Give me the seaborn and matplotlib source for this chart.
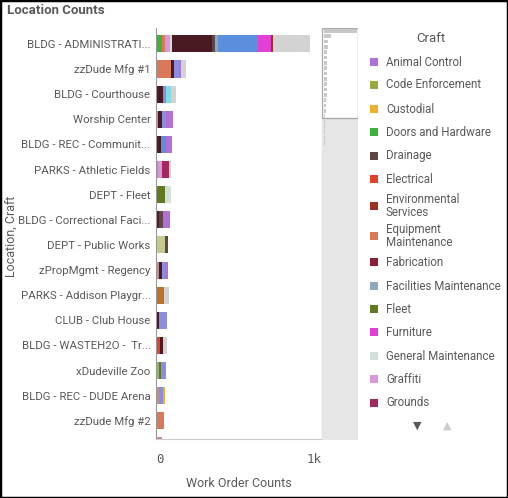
import pandas as pd
import seaborn as sns
import matplotlib.pyplot as plt
from matplotlib.patches import Rectangle

# --- Data ---
locations = [
    "BLDG - ADMINISTRATI...", "zzDude Mfg #1", "BLDG - Courthouse", "Worship Center",
    "BLDG - REC - Communit...", "PARKS - Athletic Fields", "DEPT - Fleet",
    "BLDG - Correctional Faci...", "DEPT - Public Works", "zPropMgmt - Regency",
    "PARKS - Addison Playgr...", "CLUB - Club House", "BLDG - WASTEH2O -  Tr...",
    "xDudeville Zoo", "BLDG - REC - DUDE Arena", "zzDude Mfg #2", "BLDG - Library",
]

# stacking order (left to right inside a bar)
stack_order = [
    "Carpentry", "Doors and Hardware", "Equipment Maintenance", "Electrical", "Turf",
    "Fleet", "Irrigation", "Locksmith", "Graffiti", "General Maintenance", "HVAC",
    "Drainage", "Facilities Maintenance", "Painting", "Plumbing", "Roofing",
    "Animal Control", "Furniture", "Grounds", "Environmental Services", "Structural",
    "Custodial", "Code Enforcement", "Fabrication",
]

craft_colors = {
    "Animal Control": "#b26fd4", "Code Enforcement": "#9aa63e", "Custodial": "#eab02e",
    "Doors and Hardware": "#3db33d", "Drainage": "#5d4747", "Electrical": "#e3412b",
    "Environmental Services": "#9c3220", "Equipment Maintenance": "#d9795a",
    "Fabrication": "#8c1f33", "Facilities Maintenance": "#8fa8ba", "Fleet": "#607a1f",
    "Furniture": "#e23fd3", "General Maintenance": "#d3e0da", "Graffiti": "#d999d9",
    "Grounds": "#a3285f", "HVAC": "#4a1922", "Irrigation": "#c4c98c",
    "Locksmith": "#b9742a", "Painting": "#5b8fdd", "Plumbing": "#8b8ddf",
    "Roofing": "#7fdde6", "Structural": "#d3d3d3", "Turf": "#8fb36a",
    "Carpentry": "#c09088",
}

# legend shows only the first page of crafts
legend_crafts = [
    "Animal Control", "Code Enforcement", "Custodial", "Doors and Hardware", "Drainage",
    "Electrical", "Environmental\nServices", "Equipment\nMaintenance", "Fabrication",
    "Facilities Maintenance", "Fleet", "Furniture", "General Maintenance", "Graffiti",
    "Grounds",
]

seg_location = (
    [0] * 11 + [1] * 5 + [2] * 4 + [3] * 4 + [4] * 3 + [5] * 4 + [6] * 2 + [7] * 3
    + [8] * 2 + [9] * 4 + [10] * 2 + [11] * 2 + [12] * 3 + [13] * 3 + [14] * 3
    + [15] + [16]
)
seg_craft = [
    "Doors and Hardware", "Equipment Maintenance", "Graffiti", "General Maintenance",
    "HVAC", "Drainage", "Facilities Maintenance", "Painting", "Furniture",
    "Environmental Services", "Structural",
    "Equipment Maintenance", "HVAC", "Plumbing", "Animal Control", "Structural",
    "HVAC", "Plumbing", "Roofing", "Structural",
    "Carpentry", "HVAC", "Plumbing", "Animal Control",
    "HVAC", "Painting", "Animal Control",
    "Carpentry", "Graffiti", "Grounds", "Structural",
    "Fleet", "General Maintenance",
    "HVAC", "Drainage", "Animal Control",
    "Irrigation", "Drainage",
    "Carpentry", "HVAC", "Plumbing", "Animal Control",
    "Locksmith", "Structural",
    "HVAC", "Plumbing",
    "Electrical", "HVAC", "Structural",
    "Turf", "Fleet", "Plumbing",
    "Carpentry", "Plumbing", "Custodial",
    "Equipment Maintenance",
    "Carpentry",
]
seg_count = [
    35, 20, 30, 10, 242, 20, 14, 242, 77, 16, 220,
    89, 22, 28, 12, 30,
    42, 18, 30, 30,
    14, 20, 26, 40,
    30, 30, 34,
    14, 24, 40, 10,
    55, 34,
    20, 24, 40,
    55, 20,
    18, 16, 20, 20,
    50, 28,
    20, 48,
    24, 20, 24,
    18, 12, 28,
    18, 26, 10,
    48,
    36,
]
# totals of further (scrolled-away) rows, seen only in the mini overview
tail_totals = [34, 30, 28, 25, 22]

TXT = "#595959"

df = pd.DataFrame({
    "location": [locations[i] for i in seg_location],
    "craft": seg_craft,
    "count": seg_count,
})
table = (df.pivot_table(index="location", columns="craft", values="count",
                        aggfunc="sum", fill_value=0)
         .reindex(index=locations, columns=stack_order, fill_value=0))
cum = table.cumsum(axis=1)

sns.set_style("white")
plt.rcParams["font.family"] = ["Roboto", "DejaVu Sans"]

W, H = 508, 498
fig = plt.figure(figsize=(W / 100, H / 100), dpi=100)


def fx(x):
    return x / W


def fy(y):
    return 1 - y / H


# --- Main stacked bar chart ---
ax = fig.add_axes([fx(156), fy(439), fx(322) - fx(156), (439 - 28) / H])
for craft in reversed(stack_order):
    sns.barplot(x=cum[craft].values, y=locations, order=locations, orient="h",
                color=craft_colors[craft], saturation=1, width=0.68,
                linewidth=0, ax=ax)
ax.set_xlim(0, 1000)
ax.set_ylim(15.72, -0.63)
ax.set_xticks([0, 1000])
ax.set_xticklabels(["0", "1k"], fontsize=9, color=TXT, family="DejaVu Sans Mono")
xl = ax.get_xticklabels()
xl[0].set_horizontalalignment("left")
xl[1].set_horizontalalignment("right")
ax.tick_params(axis="x", length=0, pad=10)
ax.tick_params(axis="y", length=0, pad=4, labelsize=8.2, labelcolor=TXT)
ax.set_xlabel("Work Order Counts", fontsize=9, color=TXT, labelpad=8)
ax.set_ylabel("")
for s in ["top", "right"]:
    ax.spines[s].set_visible(False)
ax.spines["left"].set_color("#999999")
ax.spines["bottom"].set_color("#cccccc")
ax.axvline(1000, color="#cccccc", lw=1)

fig.text(fx(12), fy(236), "Location, Craft", rotation=90, fontsize=9, color=TXT,
         ha="center", va="center")
fig.text(fx(7), fy(11), "Location Counts", fontsize=9.5, fontweight="bold",
         color=TXT, ha="left", va="center")

# --- Mini scroll overview ---
totals = list(table.sum(axis=1).values) + tail_totals
n_rows = 77
ax_s = fig.add_axes([fx(322), fy(440), fx(358) - fx(322), (440 - 28) / H])
ax_s.set_facecolor("#e6e6e6")
ax_s.add_patch(Rectangle((0, -0.5), 1, 16.8, transform=ax_s.get_yaxis_transform(),
                         facecolor="white", edgecolor="#aaaaaa", lw=1, zorder=0.5))
sns.barplot(x=totals, y=list(range(len(totals))), orient="h", native_scale=True,
            color="#c8c8c8", saturation=1, width=0.7, linewidth=0, ax=ax_s)
ax_s.set_xlim(-60, 960)
ax_s.set_ylim(n_rows - 0.5, -0.5)
ax_s.set_xticks([])
ax_s.set_yticks([])
ax_s.set_xlabel("")
ax_s.set_ylabel("")
for s in ax_s.spines.values():
    s.set_visible(False)

# --- Legend (first page) ---
fig.text(fx(431), fy(39), "Craft", fontsize=9.5, color=TXT, ha="center", va="center")
leg_y = [62, 85, 109, 132, 156, 179, 206, 236, 262, 286, 309, 332, 356, 379, 403]
for label, yy in zip(legend_crafts, leg_y):
    key = label.replace("\n", " ")
    fig.patches.append(Rectangle((fx(370), fy(yy + 4)), 8 / W, 8 / H,
                                 transform=fig.transFigure,
                                 facecolor=craft_colors[key], edgecolor="none"))
    fig.text(fx(386), fy(yy), label, fontsize=8.3, color=TXT, ha="left",
             va="center", linespacing=0.95)
fig.text(fx(417), fy(426), "\u25bc", fontsize=8, color=TXT, ha="center",
         va="center", family="DejaVu Sans")
fig.text(fx(447), fy(426), "\u25b2", fontsize=8, color="#cccccc", ha="center",
         va="center", family="DejaVu Sans")

# outer frame
fig.patches.append(Rectangle((0, 0), 1, 1, transform=fig.transFigure,
                             facecolor="none", edgecolor="black", lw=2.5))

fig.savefig("out.png", dpi=100)
